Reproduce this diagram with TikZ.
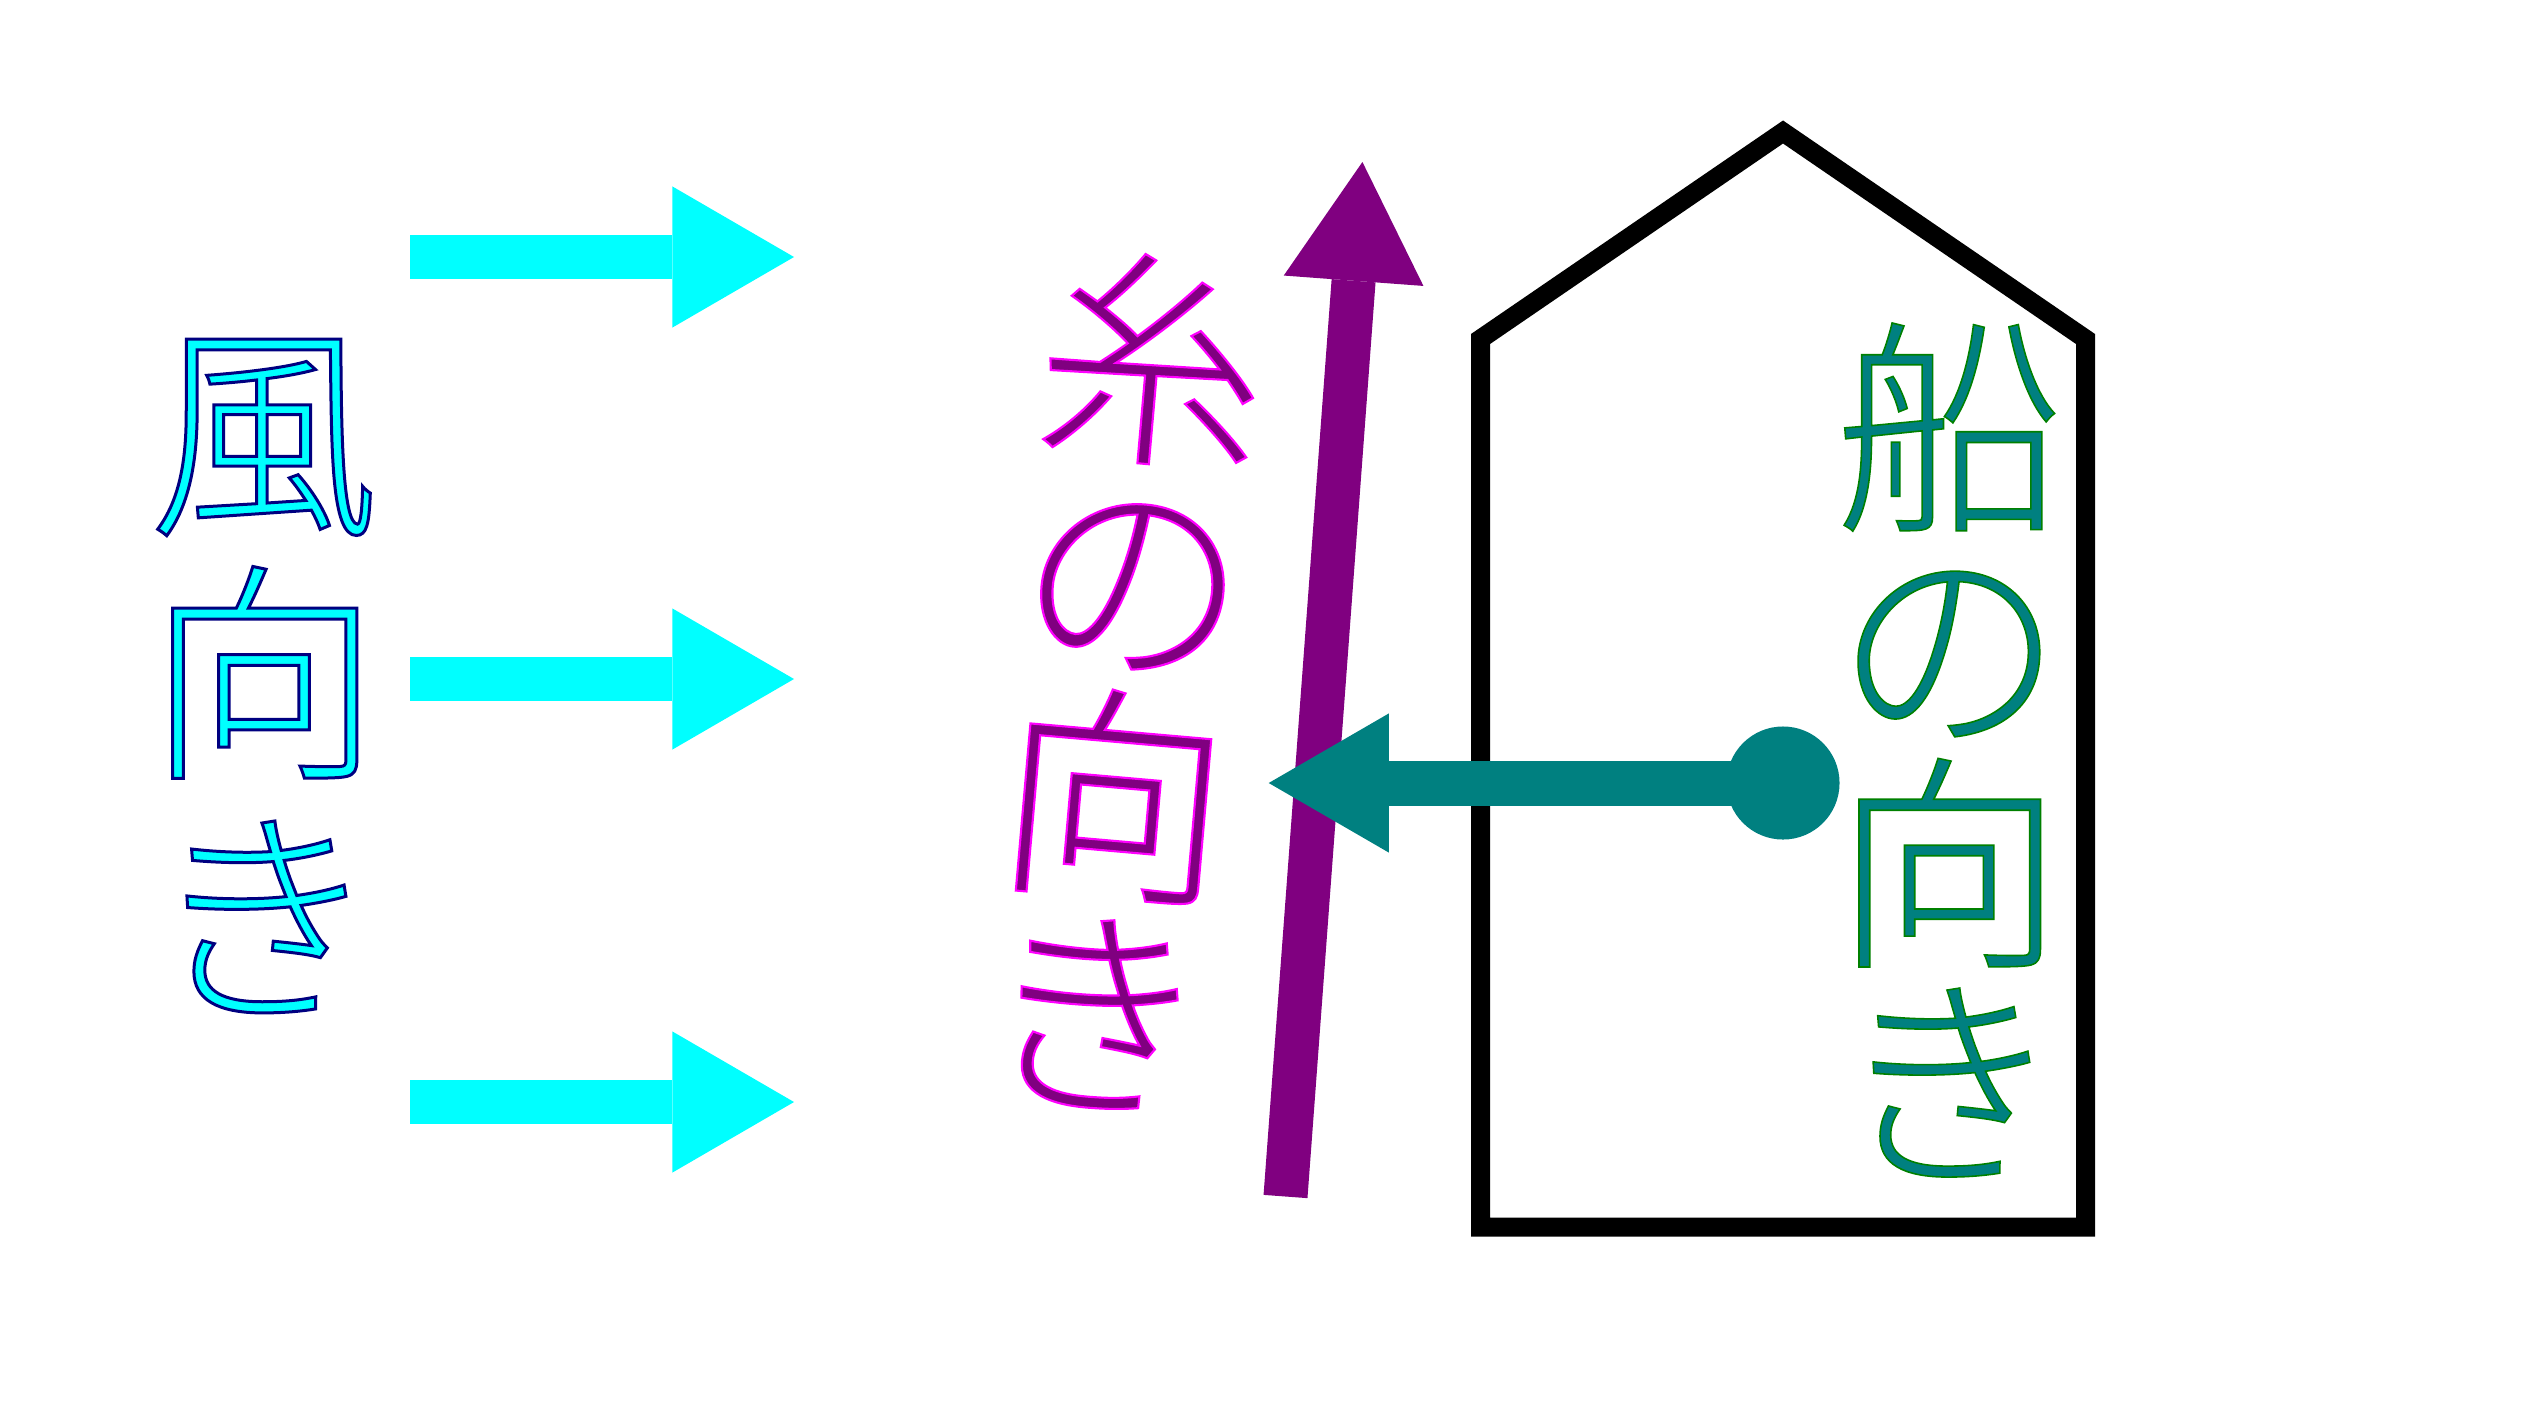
\documentclass[tikz,border=0pt]{standalone}
\usepackage{fontspec}
\newfontfamily\cjk{Noto Sans CJK JP Light}
\usetikzlibrary{arrows.meta}
\definecolor{kcyan}{RGB}{0,255,255}
\definecolor{kpurple}{RGB}{128,0,128}
\definecolor{kteal}{RGB}{0,128,128}
\newcommand\outlon[1]{\special{pdf:literal direct 2 Tr #1}}
\newcommand\outloff{\special{pdf:literal direct 0 Tr}}
\newcommand\vfont[2]{\cjk\fontsize{#1}{#2}\selectfont\lineskiplimit-100pt\relax}
\begin{document}
\begin{tikzpicture}[x=0.01cm,y=-0.01cm,
  windarrow/.style={draw=kcyan, line width=0.44cm,
    -{Triangle[length=1.215cm,width=1.41cm,line width=0pt]}},
  kitearrow/.style={draw=kpurple, line width=0.44cm,
    -{Triangle[length=1.19cm,width=1.40cm,line width=0pt]}},
  boatarrow/.style={draw=kteal, line width=0.45cm,
    -{Triangle[length=1.20cm,width=1.39cm,line width=0pt]}},
  pivot/.style={circle, fill=kteal, minimum size=1.13cm, inner sep=0pt},
  hull/.style={draw=black, line width=0.19cm},
  widetext/.style={align=center, inner sep=0pt, font={\vfont{66}{69}}},
  narrowtext/.style={align=center, inner sep=0pt, font={\vfont{65}{62}}},
]
\useasboundingbox (0,0) rectangle (2537,1427);
% wind arrows
\coordinate (w1s) at (410,257);  \coordinate (w1e) at (794,257);
\coordinate (w2s) at (410,679);  \coordinate (w2e) at (794,679);
\coordinate (w3s) at (410,1102); \coordinate (w3e) at (794,1102);
\draw[windarrow] (w1s) -- (w1e);
\draw[windarrow] (w2s) -- (w2e);
\draw[windarrow] (w3s) -- (w3e);
% kite string arrow
\coordinate (kb) at (1285.5,1196.5);
\coordinate (kt) at (1362.4,162);
\draw[kitearrow] (kb) -- (kt);
% boat hull
\coordinate (h1) at (1480.5,1227);
\coordinate (h2) at (1480.5,339);
\coordinate (h3) at (1783,132);
\coordinate (h4) at (2085.5,339);
\coordinate (h5) at (2085.5,1227);
\draw[hull] (h1) -- (h2) -- (h3) -- (h4) -- (h5) -- cycle;
% boat direction arrow
\node[pivot] (pv) at (1783,783) {};
\coordinate (bt) at (1268.7,783);
\draw[boatarrow] (pv.center) -- (bt);
% texts
\node[widetext, text=kcyan] (wind) at (264,676)
  {\outlon{0.85 w 0 0 0.5 RG}風\\向\\き\outloff};
\node[narrowtext, text=kpurple, rotate=-5] (kite) at (1124.5,681.5)
  {\outlon{0.6 w 1 0 1 RG}糸\\の\\向\\き\outloff};
\node[narrowtext, text=kteal] (boat) at (1949,750)
  {\outlon{0.45 w 0 0.5 0 RG}船\\の\\向\\き\outloff};
\end{tikzpicture}
\end{document}
